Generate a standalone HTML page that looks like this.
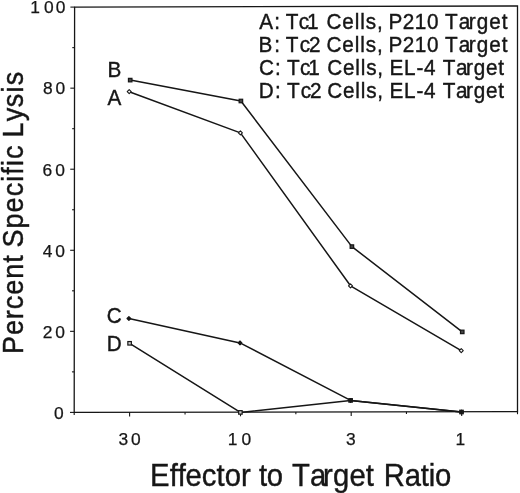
<!DOCTYPE html>
<html><head><meta charset="utf-8"><title>Percent Specific Lysis vs Effector to Target Ratio</title>
<style>
html,body{margin:0;padding:0;background:#fff;}
svg{display:block;}
text{font-family:"Liberation Sans",sans-serif;fill:#161616;stroke:#161616;stroke-width:0.4px;}
</style></head><body>
<svg width="520" height="493" viewBox="0 0 520 493">
<rect width="520" height="493" fill="#fff"/>

<!-- plot frame -->
<polygon points="74.6,7.1 517.5,6.0 517.5,411.6 74.2,412.4" fill="none" stroke="#161616" stroke-width="1.3"/>
<line x1="74.2" y1="412.4" x2="74.2" y2="415.0" stroke="#161616" stroke-width="1.1"/>
<line x1="517.5" y1="411.6" x2="517.5" y2="414.20000000000005" stroke="#161616" stroke-width="1.1"/>
<!-- ticks -->
<line x1="70.00" y1="412.40" x2="74.20" y2="412.40" stroke="#161616" stroke-width="1.1"/>
<line x1="71.94" y1="371.87" x2="74.24" y2="371.87" stroke="#161616" stroke-width="1.1"/>
<line x1="70.08" y1="331.34" x2="74.28" y2="331.34" stroke="#161616" stroke-width="1.1"/>
<line x1="72.02" y1="290.81" x2="74.32" y2="290.81" stroke="#161616" stroke-width="1.1"/>
<line x1="70.16" y1="250.28" x2="74.36" y2="250.28" stroke="#161616" stroke-width="1.1"/>
<line x1="72.10" y1="209.75" x2="74.40" y2="209.75" stroke="#161616" stroke-width="1.1"/>
<line x1="70.24" y1="169.22" x2="74.44" y2="169.22" stroke="#161616" stroke-width="1.1"/>
<line x1="72.18" y1="128.69" x2="74.48" y2="128.69" stroke="#161616" stroke-width="1.1"/>
<line x1="70.32" y1="88.16" x2="74.52" y2="88.16" stroke="#161616" stroke-width="1.1"/>
<line x1="72.26" y1="47.63" x2="74.56" y2="47.63" stroke="#161616" stroke-width="1.1"/>
<line x1="70.40" y1="7.10" x2="74.60" y2="7.10" stroke="#161616" stroke-width="1.1"/>
<line x1="129.6" y1="412.30" x2="129.6" y2="416.50" stroke="#161616" stroke-width="1.1"/>
<line x1="240.5" y1="412.10" x2="240.5" y2="416.30" stroke="#161616" stroke-width="1.1"/>
<line x1="351.2" y1="411.90" x2="351.2" y2="416.10" stroke="#161616" stroke-width="1.1"/>
<line x1="461.7" y1="411.70" x2="461.7" y2="415.90" stroke="#161616" stroke-width="1.1"/>
<line x1="185.05" y1="412.20" x2="185.05" y2="414.50" stroke="#161616" stroke-width="1.1"/>
<line x1="295.85" y1="412.00" x2="295.85" y2="414.30" stroke="#161616" stroke-width="1.1"/>
<line x1="406.45" y1="411.80" x2="406.45" y2="414.10" stroke="#161616" stroke-width="1.1"/>
<!-- tick labels -->
<text transform="translate(0,13.40) scale(1,1.0)" font-size="17.4" style="stroke-width:0.25px" x="30.17 44.09 55.69">100</text>
<text transform="translate(0,94.46) scale(1,1.0)" font-size="17.4" style="stroke-width:0.25px" x="42.99 55.59">80</text>
<text transform="translate(0,175.92) scale(1,1.0)" font-size="17.4" style="stroke-width:0.25px" x="42.62 55.29">60</text>
<text transform="translate(0,256.58) scale(1,1.0)" font-size="17.4" style="stroke-width:0.25px" x="42.75 55.29">40</text>
<text transform="translate(0,337.64) scale(1,1.0)" font-size="17.4" style="stroke-width:0.25px" x="42.69 55.29">20</text>
<text transform="translate(0,418.70) scale(1,1.0)" font-size="17.4" style="stroke-width:0.25px" x="53.99">0</text>
<text transform="translate(0,444.50) scale(1,1.0)" font-size="17.4" style="stroke-width:0.25px" x="118.39 131.09">30</text>
<text transform="translate(0,444.50) scale(1,1.0)" font-size="17.4" style="stroke-width:0.25px" x="227.68 241.49">10</text>
<text transform="translate(0,444.50) scale(1,1.0)" font-size="17.4" style="stroke-width:0.25px" x="345.99">3</text>
<text transform="translate(0,444.50) scale(1,1.0)" font-size="17.4" style="stroke-width:0.25px" x="455.48">1</text>
<!-- data series -->
<polyline points="130.20,80.10 240.90,101.00 351.90,246.60 462.25,331.90" fill="none" stroke="#161616" stroke-width="1.5" stroke-linejoin="round"/>
<polyline points="129.20,91.70 240.40,132.90 350.50,285.80 461.25,350.60" fill="none" stroke="#161616" stroke-width="1.5" stroke-linejoin="round"/>
<polyline points="129.60,343.30 240.40,412.40 350.60,400.40 461.50,412.00" fill="none" stroke="#161616" stroke-width="1.5" stroke-linejoin="round"/>
<polyline points="128.90,318.50 240.00,342.90 350.60,400.40 461.50,412.00" fill="none" stroke="#161616" stroke-width="1.5" stroke-linejoin="round"/>
<rect x="128.45" y="78.35" width="3.5" height="3.5" fill="#444" stroke="#161616" stroke-width="1.2"/>
<rect x="239.15" y="99.25" width="3.5" height="3.5" fill="#444" stroke="#161616" stroke-width="1.2"/>
<rect x="350.15" y="244.85" width="3.5" height="3.5" fill="#444" stroke="#161616" stroke-width="1.2"/>
<rect x="460.50" y="330.15" width="3.5" height="3.5" fill="#444" stroke="#161616" stroke-width="1.2"/>
<path d="M127.20,91.70 L129.20,89.70 L131.20,91.70 L129.20,93.70 Z" fill="#fff" stroke="#161616" stroke-width="1.1" stroke-linejoin="round"/>
<path d="M238.40,132.90 L240.40,130.90 L242.40,132.90 L240.40,134.90 Z" fill="#fff" stroke="#161616" stroke-width="1.1" stroke-linejoin="round"/>
<path d="M348.50,285.80 L350.50,283.80 L352.50,285.80 L350.50,287.80 Z" fill="#fff" stroke="#161616" stroke-width="1.1" stroke-linejoin="round"/>
<path d="M459.25,350.60 L461.25,348.60 L463.25,350.60 L461.25,352.60 Z" fill="#fff" stroke="#161616" stroke-width="1.1" stroke-linejoin="round"/>
<rect x="127.85" y="341.55" width="3.5" height="3.5" fill="#ccc" stroke="#161616" stroke-width="1.2"/>
<rect x="238.65" y="410.65" width="3.5" height="3.5" fill="#ccc" stroke="#161616" stroke-width="1.2"/>
<rect x="348.85" y="398.65" width="3.5" height="3.5" fill="#ccc" stroke="#161616" stroke-width="1.2"/>
<rect x="459.75" y="410.25" width="3.5" height="3.5" fill="#ccc" stroke="#161616" stroke-width="1.2"/>
<path d="M127.00,318.50 L128.90,316.60 L130.80,318.50 L128.90,320.40 Z" fill="#161616" stroke="#161616" stroke-width="1.1" stroke-linejoin="round"/>
<path d="M238.10,342.90 L240.00,341.00 L241.90,342.90 L240.00,344.80 Z" fill="#161616" stroke="#161616" stroke-width="1.1" stroke-linejoin="round"/>
<path d="M348.70,400.40 L350.60,398.50 L352.50,400.40 L350.60,402.30 Z" fill="#161616" stroke="#161616" stroke-width="1.1" stroke-linejoin="round"/>
<path d="M459.60,412.00 L461.50,410.10 L463.40,412.00 L461.50,413.90 Z" fill="#161616" stroke="#161616" stroke-width="1.1" stroke-linejoin="round"/>
<!-- series labels -->
<text transform="translate(107.45,76.5) scale(1,1.03)" font-size="20.7">B</text>
<text transform="translate(107.56,104.9) scale(1,1.06)" font-size="20.7">A</text>
<text transform="translate(106.74,322.9) scale(1,1.1)" font-size="20.7">C</text>
<text transform="translate(106.80,351) scale(1,1.05)" font-size="20.7">D</text>
<!-- legend and axis titles -->
<text transform="translate(0,28.6) scale(1,1.05)" font-size="20.7" x="259.38 274.17 279 285.75 298.64 306.94 318.5 326.5 342.36 354.8 360.32 365.84 377.11 382 388.45 402.8 414.85 426.91 438.6 445 458.64 468.86 476.75 489.26 501.77">A: Tc1 Cells, P210 Target</text>
<text transform="translate(0,51.9) scale(1,1.05)" font-size="20.7" x="258.55 274.17 279 285.75 299.7 309.06 320.5 326.5 342.36 354.8 360.32 365.84 377.11 382 388.45 402.8 414.85 426.91 438.6 445 458.64 468.86 476.75 489.26 501.77">B: Tc2 Cells, P210 Target</text>
<text transform="translate(0,75) scale(1,1.05)" font-size="20.7" x="259 274.94 279.75 287 299.89 308.19 319.75 327.25 343.01 355.35 360.77 366.19 377.36 382.25 389.55 404.12 416.4 424.07 436 442.7 456.12 466.12 473.79 486.08 498.37">C: Tc1 Cells, EL-4 Target</text>
<text transform="translate(0,98) scale(1,1.05)" font-size="20.7" x="258.75 274.94 279.75 287 300.82 310.06 321.5 327.25 343.01 355.35 360.77 366.19 377.36 382.25 389.55 404.12 416.4 424.07 436 442.7 456.12 466.12 473.79 486.08 498.37">D: Tc2 Cells, EL-4 Target</text>
<text transform="translate(0,486) scale(0.975,1.04)" font-size="30" x="153.91 174 182.41 190.28 207.04 222.11 230.53 247.29 257.82 265.55 273.71 290.13 299.38 317.87 331.39 341.55 358.4 375.25 384.33 393.65 415.1 431.57 439.69 446.14">Effector to Target Ratio</text>
<text transform="translate(23.4,351.8) rotate(-90) scale(1,1.075)" font-size="27" x="-2.25 16.7 32.67 42.6 57.05 73.01 88.97 97.3 104.25 123.33 139.42 155.51 170.08 177.15 185.72 192.79 206.5 214.25 230.6 244.44 259.28 266.61">Percent Specific Lysis</text>
</svg></body></html>
